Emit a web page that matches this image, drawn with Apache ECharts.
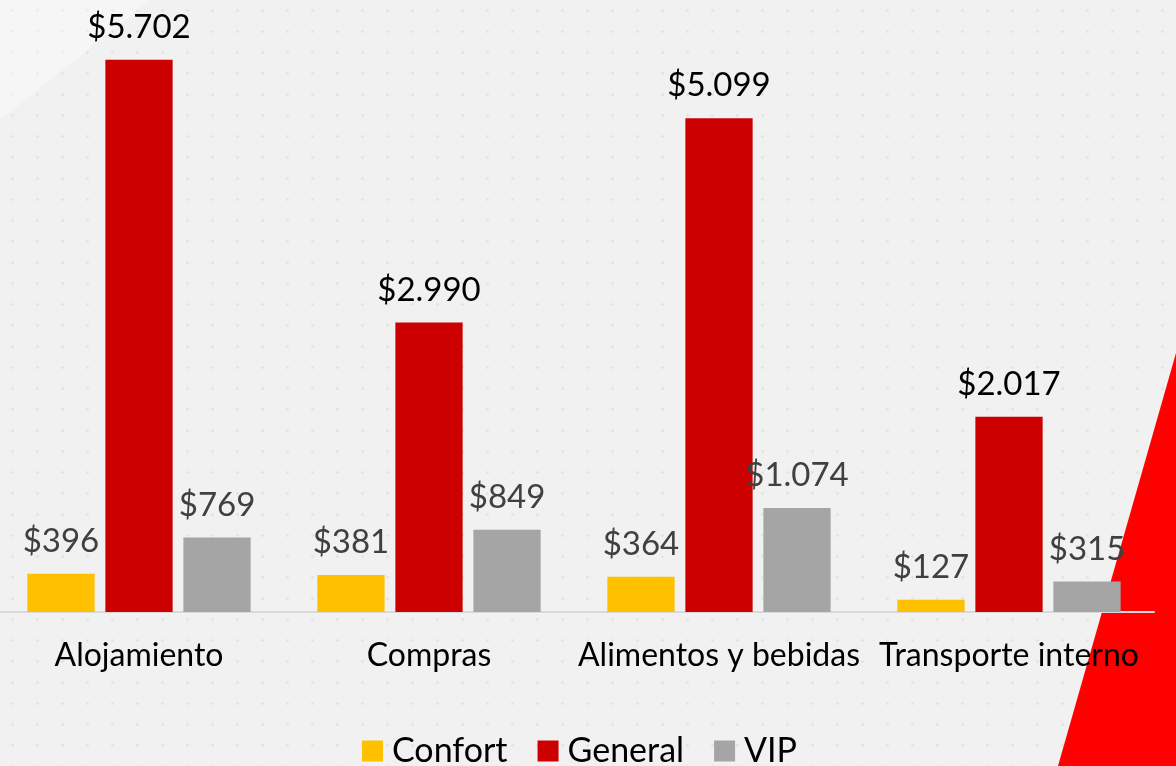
<!DOCTYPE html>
<html>
<head>
<meta charset="utf-8">
<script src="https://cdn.jsdelivr.net/npm/echarts@6/dist/echarts.min.js"></script>
<style>
  html, body { margin: 0; padding: 0; }
  #chart {
    width: 1176px; height: 766px;
    background-color: #f1f1f1;
    background-image: radial-gradient(circle, rgba(0,0,0,0.06) 1px, transparent 1.6px);
    background-size: 25px 21px;
  }
</style>
</head>
<body>
<div id="chart"></div>
<script>
var categories = ['Alojamiento', 'Compras', 'Alimentos y bebidas', 'Transporte interno']
var confort = [396, 381, 364, 127]
var general = [5702, 2990, 5099, 2017]
var vip = [769, 849, 1074, 315]

var myChart = echarts.init(document.getElementById('chart'))

var fmt = function (p) {
    var s = String(p.value)
    if (p.value >= 1000) s = s.slice(0, s.length - 3) + '.' + s.slice(-3)
    return '$' + s
}

var labelStyle = function (color) {
    return {
        show: true,
        position: 'top',
        distance: 16,
        fontFamily: 'Lato',
        fontSize: 33,
        color: color,
        formatter: fmt
    }
}

var option = {
    backgroundColor: 'transparent',
    graphic: [
        {
            type: 'polygon',
            z: -10,
            silent: true,
            shape: { points: [[1176, 353], [1176, 766], [1058, 766]] },
            style: { fill: '#ff0000' }
        },
        {
            type: 'polygon',
            z: -11,
            silent: true,
            shape: { points: [[0, 0], [150, 0], [0, 120]] },
            style: { fill: 'rgba(255,255,255,0.35)' }
        }
    ],
    grid: {
        left: -6,
        right: 22,
        top: 0,
        bottom: 154,
        containLabel: false,
        outerBoundsMode: 'none'
    },
    legend: {
        top: 734,
        left: 362,
        padding: 0,
        itemWidth: 21,
        itemHeight: 21,
        itemGap: 30,
        icon: 'rect',
        textStyle: { fontFamily: 'Lato', fontSize: 34, color: '#000', padding: [0, 0, 0, 4] },
        data: ['Confort', 'General', 'VIP']
    },
    xAxis: {
        type: 'category',
        data: categories,
        axisLine: { lineStyle: { color: '#d9d9d9', width: 2 } },
        axisTick: { show: false },
        axisLabel: {
            fontFamily: 'Lato',
            fontSize: 32,
            color: '#000',
            margin: 28,
            interval: 0
        }
    },
    yAxis: {
        type: 'value',
        min: 0,
        max: 6320,
        show: false,
        splitLine: { show: false }
    },
    series: [
        {
            name: 'Confort',
            type: 'bar',
            data: confort,
            itemStyle: { color: '#ffc000' },
            label: labelStyle('#404040'),
            barGap: '16%',
            barCategoryGap: '23%'
        },
        {
            name: 'General',
            type: 'bar',
            data: general,
            itemStyle: { color: '#cc0000' },
            label: labelStyle('#000')
        },
        {
            name: 'VIP',
            type: 'bar',
            data: vip,
            itemStyle: { color: '#a5a5a5' },
            label: labelStyle('#404040')
        }
    ],
    animation: false
}

myChart.setOption(option)
</script>
</body>
</html>
